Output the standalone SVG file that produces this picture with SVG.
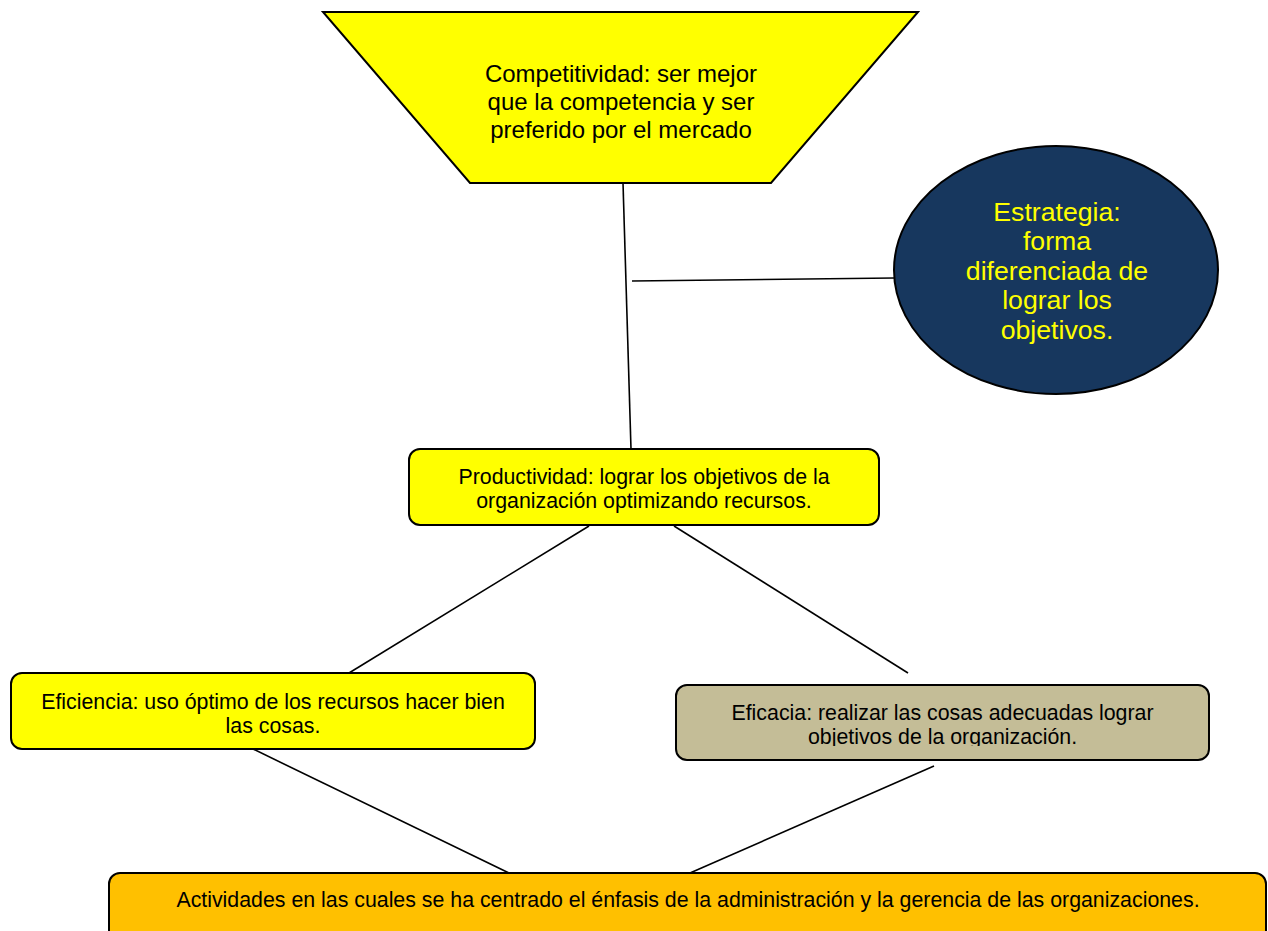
<svg xmlns="http://www.w3.org/2000/svg" width="1268" height="931" viewBox="0 0 1268 931">
<style>
text{font-family:"Liberation Sans",Arial,sans-serif;text-anchor:middle;fill:#000}
.s16{font-size:21.33px}
.s18{font-size:24px}
.s20{font-size:26.67px;fill:#FFFF00}
.shape{stroke:#000;stroke-width:2}
.conn line{stroke:#000;stroke-width:1.6}
</style>
<defs>
<clipPath id="clipEficacia"><rect x="676" y="685" width="533" height="61"/></clipPath>
</defs>
<rect width="1268" height="931" fill="#fff"/>
<g id="connectors" class="conn">
<line x1="623" y1="183" x2="631" y2="449"/>
<line x1="632" y1="281" x2="894" y2="278"/>
<line x1="589" y1="526" x2="349" y2="673"/>
<line x1="674" y1="526" x2="908" y2="673"/>
<line x1="253" y1="749" x2="509" y2="873"/>
<line x1="934" y1="766" x2="690" y2="873"/>
</g>
<g id="competitividad">
<polygon class="shape" points="323,12 918,12 771,183 470,183" fill="#FFFF00"/>
<text class="s18" x="621" y="82">Competitividad: ser mejor</text>
<text class="s18" x="621" y="110">que la competencia y ser</text>
<text class="s18" x="621" y="138">preferido por el mercado</text>
</g>
<g id="estrategia">
<ellipse class="shape" cx="1056" cy="270" rx="162" ry="124" fill="#17375E"/>
<text class="s20" x="1057" y="221">Estrategia:</text>
<text class="s20" x="1057" y="250">forma</text>
<text class="s20" x="1057" y="280">diferenciada de</text>
<text class="s20" x="1057" y="309">lograr los</text>
<text class="s20" x="1057" y="339">objetivos.</text>
</g>
<g id="productividad">
<rect class="shape" x="409" y="449" width="470" height="76" rx="11" fill="#FFFF00"/>
<text class="s16" x="644" y="484">Productividad: lograr los objetivos de la</text>
<text class="s16" x="644" y="508">organización optimizando recursos.</text>
</g>
<g id="eficiencia">
<rect class="shape" x="11" y="673" width="524" height="76" rx="11" fill="#FFFF00"/>
<text class="s16" x="273" y="709">Eficiencia: uso óptimo de los recursos hacer bien</text>
<text class="s16" x="273" y="733">las cosas.</text>
</g>
<g id="eficacia">
<rect class="shape" x="676" y="685" width="533" height="75" rx="11" fill="#C4BD97"/>
<g clip-path="url(#clipEficacia)">
<text class="s16" x="942.5" y="720">Eficacia: realizar las cosas adecuadas lograr</text>
<text class="s16" x="942.5" y="744">objetivos de la organización.</text>
</g>
</g>
<g id="actividades">
<rect class="shape" x="109" y="873" width="1157" height="75" rx="11" fill="#FFC000"/>
<text class="s16" x="688" y="907">Actividades en las cuales se ha centrado el énfasis de la administración y la gerencia de las organizaciones.</text>
</g>
</svg>
